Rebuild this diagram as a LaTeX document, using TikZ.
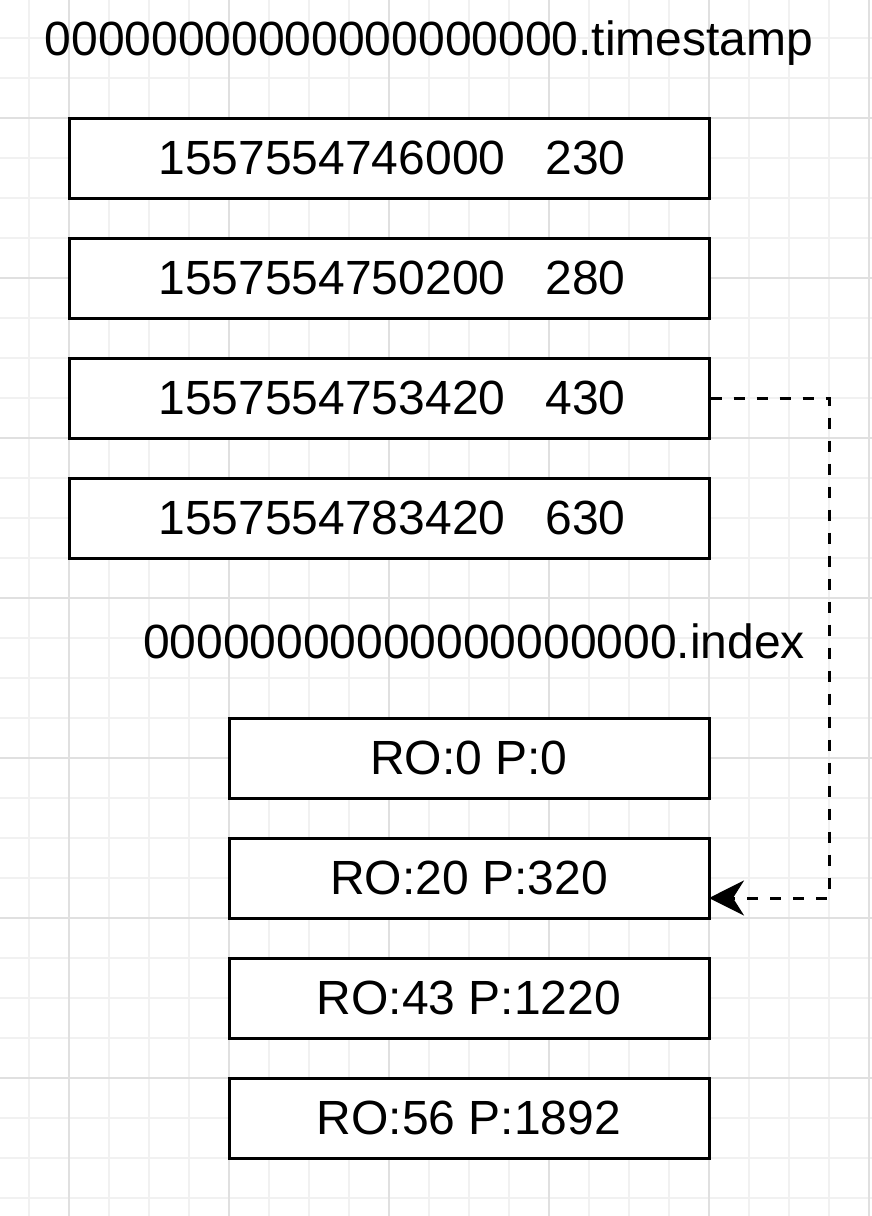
\documentclass[tikz,border=0pt]{standalone}
\usepackage{fontspec}
\setmainfont{Liberation Sans}
\usetikzlibrary{arrows.meta}
\definecolor{gridminor}{HTML}{F1F1F1}
\definecolor{gridmajor}{HTML}{E0E0E0}
\tikzset{
  rec/.style={draw=black, line width=3pt, fill=white, inner sep=0pt,
    minimum height=80pt, font=\fontsize{48}{58}\selectfont},
  tsbox/.style={rec, minimum width=640pt},
  ixbox/.style={rec, minimum width=480pt},
  title/.style={inner sep=0pt, font=\fontsize{48}{58}\selectfont},
  link/.style={draw=black, line width=3pt, dash pattern=on 11pt off 12pt,
    -{Stealth[length=35pt, width=35pt, inset=11pt]}}
}
\begin{document}
\begin{tikzpicture}[x=1pt, y=-1pt]
\useasboundingbox (0,0) rectangle (872,1216);
\fill[white] (0,0) rectangle (872,1216);
% grid
\foreach \gx in {29,109,149,189,269,309,349,429,469,509,589,629,669,749,789,829}
  \draw[gridminor, line width=1.8pt] (\gx,0) -- (\gx,1216);
\foreach \gy in {-2,38,78,158,198,238,318,358,398,478,518,558,638,678,718,798,838,878,958,998,1038,1118,1158,1198}
  \draw[gridminor, line width=1.8pt] (0,\gy) -- (872,\gy);
\foreach \gx in {69,229,389,549,709,869}
  \draw[gridmajor, line width=1.8pt] (\gx,0) -- (\gx,1216);
\foreach \gy in {118,278,438,598,758,918,1078}
  \draw[gridmajor, line width=1.8pt] (0,\gy) -- (872,\gy);
% titles
\node[title] (tt) at (429,43) {00000000000000000000.timestamp};
\node[title] (it) at (474,641) {00000000000000000000.index};
% timestamp boxes
\node[tsbox] (t1) at (389,158) {\hspace{6pt}1557554746000\ \ \ 230};
\node[tsbox] (t2) at (389,278) {\hspace{6pt}1557554750200\ \ \ 280};
\node[tsbox] (t3) at (389,398) {\hspace{6pt}1557554753420\ \ \ 430};
\node[tsbox] (t4) at (389,518) {\hspace{6pt}1557554783420\ \ \ 630};
% index boxes
\node[ixbox] (i1) at (469,758) {RO:0 P:0};
\node[ixbox] (i2) at (469,878) {RO:20 P:320};
\node[ixbox] (i3) at (469,998) {RO:43 P:1220};
\node[ixbox] (i4) at (469,1118) {RO:56 P:1892};
% connector
\coordinate (c1) at (829,398);
\coordinate (c2) at (829,898);
\coordinate (tgt) at (709,898);
\draw[link] (t3.east) -- (c1) -- (c2) -- (tgt);
\end{tikzpicture}
\end{document}
